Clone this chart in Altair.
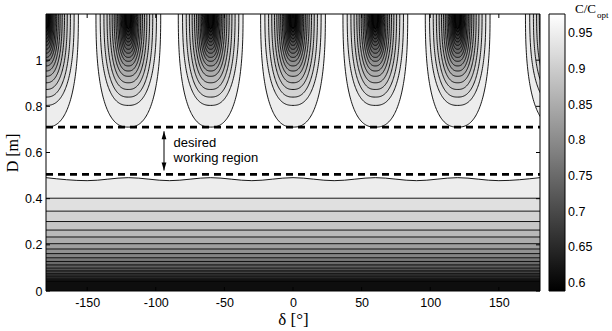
import altair as alt
import numpy as np
import pandas as pd

# ---------------- data ----------------
delta_ticks = [-150, -100, -50, 0, 50, 100, 150]
D_ticks = [0, 0.2, 0.4, 0.6, 0.8, 1.0]
cbar_ticks = [0.6, 0.65, 0.7, 0.75, 0.8, 0.85, 0.9, 0.95]
c_range = [0.589, 0.977]          # colour axis limits
delta_range = [-180, 180]
D_range = [0, 1.2]

# contour levels (outermost / highest first)
levels = [0.95, 0.93, 0.91, 0.89, 0.87, 0.85, 0.83, 0.81, 0.79,
          0.77, 0.75, 0.73, 0.71, 0.69, 0.67, 0.65, 0.63, 0.61]

# lower region: level 0.95 is a wavy line, the others are flat
wave_delta = [-180, -150, -120, -90, -60, -30, 0, 30, 60, 90, 120, 150, 180]
wave_D = [0.491, 0.478, 0.491, 0.478, 0.491, 0.478, 0.491,
          0.478, 0.491, 0.478, 0.491, 0.478, 0.491]
lower_D = [0.402, 0.346, 0.301, 0.264, 0.234, 0.205, 0.182, 0.162, 0.144,
           0.128, 0.113, 0.099, 0.087, 0.075, 0.064, 0.053, 0.043]

# upper region: lobes hanging from the top edge
lobe_centers = [-180, -120, -60, 0, 60, 120, 193]
lobe_bottom_D = [0.710, 0.804, 0.840, 0.873, 0.902, 0.930, 0.953, 0.975, 0.995,
                 1.012, 1.030, 1.047, 1.064, 1.079, 1.093, 1.108, 1.123, 1.137]
lobe_halfwidth = [23.6, 20.5, 17.8, 15.5, 13.5, 11.8, 10.3, 9.0, 7.8,
                  6.8, 5.9, 5.1, 4.4, 3.8, 3.2, 2.7, 2.2, 1.8]
lobe_top_D = 1.2

working_D = [0.505, 0.71]
arrow_delta = [-94]
arrow_D = [0.522, 0.692]
note_delta = -87
note_lines = ["desired", "working region"]
note_D = [0.623, 0.557]

# ---------------- layout ----------------
W, H = 494, 277
SANS = "Liberation Sans"
SERIF = "Liberation Serif"

xs = alt.Scale(domain=delta_range, nice=False, zero=False)
ys = alt.Scale(domain=D_range, nice=False, zero=False)
cs = alt.Scale(domain=c_range, range=["#000000", "#ffffff"], interpolate="rgb",
               nice=False, zero=False)

x_axis = alt.Axis(values=delta_ticks, title="δ [°]", labelPadding=5,
                  labelExpr="datum.value + ''",
                  titleX=W / 2, titleY=33, titleAlign="center",
                  titleBaseline="alphabetic", titleFont=SERIF, titleFontSize=17)
y_axis = alt.Axis(values=D_ticks, title="D [m]", labelPadding=4,
                  labelExpr="datum.value + ''",
                  titleX=-28.5, titleY=H / 2, titleAngle=270, titleAlign="center",
                  titleBaseline="alphabetic", titleFont=SERIF, titleFontSize=16)
legend = alt.Legend(orient="none", legendX=503, legendY=0, direction="vertical",
                    gradientLength=H, gradientThickness=16, title=None,
                    values=cbar_ticks, format=".2~f", labelFont=SANS,
                    labelFontSize=12.5, labelOffset=3, labelOverlap=False,
                    gradientStrokeColor="black", gradientStrokeWidth=1, padding=0)


def X(f):
    return alt.X(f, type="quantitative", scale=xs, axis=x_axis)


def Y(f):
    return alt.Y(f, type="quantitative", scale=ys, axis=y_axis)


def C(f):
    return alt.Color(f, type="quantitative", scale=cs, legend=legend)


layers = []

# lightest lower band: from 0 up to the wavy 0.95 line
wave_df = pd.DataFrame({"delta": wave_delta, "D": wave_D, "base": 0.0,
                        "c": levels[0]})
layers.append(alt.Chart(wave_df).mark_area(interpolate="monotone", clip=True).encode(
    x=X("delta"), y=Y("D"), y2="base", color=C("c")))

# flat lower bands
tops = lower_D
bottoms = lower_D[1:] + [0.0]
band_df = pd.DataFrame({"top": tops, "bottom": bottoms, "c": levels[1:]})
layers.append(alt.Chart(band_df).mark_rect(clip=True).encode(
    x=alt.value(0), x2=alt.value(W), y=Y("bottom"), y2="top", color=C("c")))

# lobes
rows = []
t = np.linspace(np.pi, 0, 121)
ct, st = np.cos(t), np.sin(t)
ex = 2 / 2.5
for k, lev in enumerate(levels):
    a = lobe_halfwidth[k]
    b = lobe_top_D - lobe_bottom_D[k]
    for ci, c in enumerate(lobe_centers):
        xx = c + a * np.sign(ct) * np.abs(ct) ** ex
        yy = lobe_top_D - b * np.abs(st) ** ex
        for px, py in zip(xx, yy):
            rows.append({"k": k, "lobe": ci, "cid": f"{k}_{ci}", "delta": px,
                         "D": py, "top": lobe_top_D, "c": lev})
lobe_df = pd.DataFrame(rows)

for k in range(len(levels)):
    sub = lobe_df[lobe_df.k == k]
    layers.append(alt.Chart(sub).mark_area(clip=True).encode(
        x=X("delta"), y=Y("D"), y2="top", color=C("c"), detail="lobe:N"))

# contour lines
layers.append(alt.Chart(lobe_df).mark_line(clip=True, color="black", strokeWidth=0.9).encode(
    x=X("delta"), y=Y("D"), detail="cid:N"))
layers.append(alt.Chart(wave_df).mark_line(interpolate="monotone", clip=True,
                                           color="black", strokeWidth=0.9).encode(
    x=X("delta"), y=Y("D")))
layers.append(alt.Chart(pd.DataFrame({"D": lower_D})).mark_rule(
    color="black", strokeWidth=0.9).encode(x=alt.value(0), x2=alt.value(W), y=Y("D")))

# working region dashed limits
layers.append(alt.Chart(pd.DataFrame({"D": working_D})).mark_rule(
    color="black", strokeWidth=2.8, strokeDash=[7, 5]).encode(
    x=alt.value(0), x2=alt.value(W), y=Y("D")))

# double arrow + note
arr_df = pd.DataFrame({"delta": arrow_delta * 2, "D": arrow_D})
layers.append(alt.Chart(pd.DataFrame({"delta": arrow_delta, "D0": [arrow_D[0]],
                                      "D1": [arrow_D[1]]})).mark_rule(
    color="black", strokeWidth=1).encode(x=X("delta"), y=Y("D0"), y2="D1"))
layers.append(alt.Chart(arr_df.iloc[[1]]).mark_point(
    shape="M0,-1L0.6,1L-0.6,1Z", filled=True, size=64, color="black", opacity=1,
    yOffset=4).encode(x=X("delta"), y=Y("D")))
layers.append(alt.Chart(arr_df.iloc[[0]]).mark_point(
    shape="M0,1L0.6,-1L-0.6,-1Z", filled=True, size=64, color="black", opacity=1,
    yOffset=-4).encode(x=X("delta"), y=Y("D")))
note_df = pd.DataFrame({"delta": [note_delta] * 2, "D": note_D, "label": note_lines})
layers.append(alt.Chart(note_df).mark_text(
    align="left", baseline="alphabetic", font=SANS, fontSize=13, color="black").encode(
    x=X("delta"), y=Y("D"), text="label"))

# inward ticks on all four sides
xt = pd.DataFrame({"delta": delta_ticks})
yt = pd.DataFrame({"D": D_ticks})
layers.append(alt.Chart(xt).mark_rule(color="black").encode(
    x=X("delta"), y=alt.value(H), y2=alt.value(H - 4)))
layers.append(alt.Chart(xt).mark_rule(color="black").encode(
    x=X("delta"), y=alt.value(0), y2=alt.value(4)))
layers.append(alt.Chart(yt).mark_rule(color="black").encode(
    y=Y("D"), x=alt.value(0), x2=alt.value(4)))
layers.append(alt.Chart(yt).mark_rule(color="black").encode(
    y=Y("D"), x=alt.value(W), x2=alt.value(W - 4)))

# frame
layers.append(alt.Chart(pd.DataFrame({"a": [0]})).mark_rect(
    fillOpacity=0, stroke="black", strokeWidth=1).encode(
    x=alt.value(0), x2=alt.value(W), y=alt.value(0), y2=alt.value(H)))

# colour bar title C/C_opt
layers.append(alt.Chart(pd.DataFrame({"t": ["C/C"]})).mark_text(
    align="left", baseline="alphabetic", font=SERIF, fontSize=13, color="black").encode(
    x=alt.value(529), y=alt.value(-1.3), text="t"))
layers.append(alt.Chart(pd.DataFrame({"t": ["opt"]})).mark_text(
    align="left", baseline="alphabetic", font=SERIF, fontSize=9, color="black").encode(
    x=alt.value(551), y=alt.value(4.3), text="t"))

chart = alt.layer(*layers).properties(
    width=W, height=H,
    autosize=alt.AutoSizeParams(type="none"),
    padding={"left": 46, "top": 14, "right": 72, "bottom": 40},
).configure_view(stroke=None).configure_axis(
    grid=False, domain=False, ticks=False, labelFont=SANS, labelFontSize=12.5,
    labelColor="black", titleColor="black", titleFontWeight="normal",
).configure_legend(labelColor="black")

chart.save("out.html", embed_options={"renderer": "svg", "actions": False})
